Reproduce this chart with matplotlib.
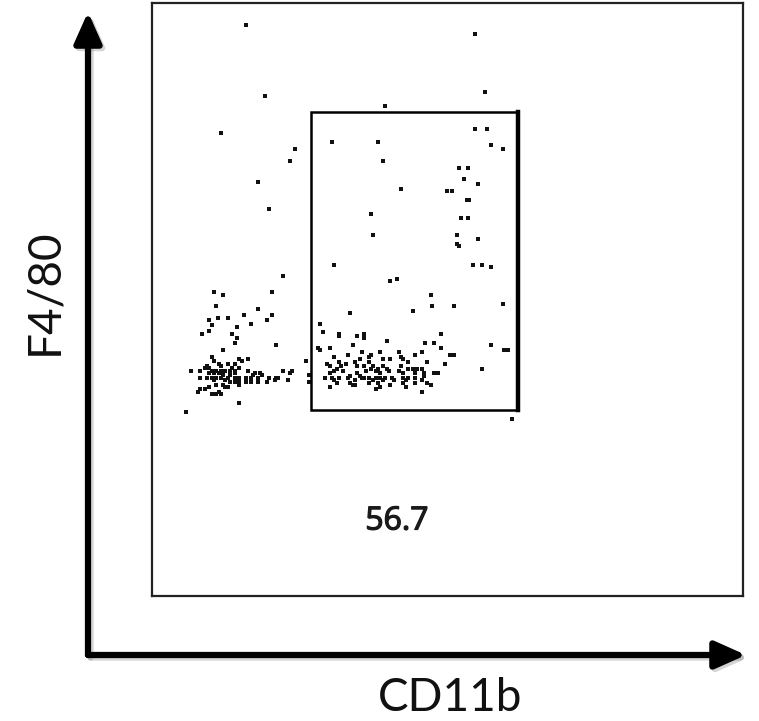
import matplotlib.pyplot as plt
import matplotlib.patheffects as pe
from matplotlib.patches import Rectangle, FancyArrowPatch

# events (CD11b, F4/80), frame scale 0-591 x 0-593
cd11b = [94, 113, 69, 143, 138, 106, 117, 131, 62, 71, 120, 64, 106, 92, 120, 66, 76, 57, 115, 60,
         99, 85, 57, 50, 80, 85, 83, 124, 71,
         60, 87, 96, 62, 90, 67, 76, 83, 55, 69, 80, 39, 48, 53, 57, 60, 64, 69, 73, 78, 83,
         87, 96, 103, 108, 131, 140, 57, 62, 67, 71, 78, 83, 101, 110, 138, 48, 55, 60, 64, 69,
         76, 83, 85, 87, 94, 99, 106, 117, 124, 126, 136, 62, 73, 78, 83, 87, 94, 99, 106, 115,
         123, 64, 71, 87, 57, 73, 76, 48, 53, 46, 60, 64, 69, 67, 87, 34, 154, 157, 157,
         233, 323, 333, 323, 335, 180, 226, 339, 351, 231, 307, 316, 312, 326, 249, 295, 300, 315, 317, 219,
         309, 316, 221, 305, 326, 305, 307, 182, 321, 330, 339, 238, 245, 279,
         280, 302, 351, 198, 261, 168, 171, 187, 187, 205, 212, 212, 289, 235, 273, 282, 201, 166, 168, 178,
         289, 339, 352, 356, 270, 210, 228, 247, 196, 219, 263, 298, 302, 182, 217, 249, 208, 231, 238, 251,
         256, 275, 187, 203, 217, 175, 178, 189, 194, 293, 205, 212, 221, 231, 249, 256, 261, 265, 270, 330,
         185, 191, 219, 226, 235, 247, 178, 182, 205, 214, 224, 228, 237, 251, 263, 272, 282, 286, 173, 180,
         187, 198, 208, 210, 212, 217, 224, 228, 233, 240, 251, 256, 263, 272, 196, 182, 203, 221, 231, 242,
         254, 270, 185, 198, 201, 203, 217, 226, 238, 251, 263, 275, 279, 178, 228, 254, 224, 270, 360]
f480 = [571, 500, 463, 447, 435, 414, 387, 320, 304, 301, 304, 290, 287, 281, 281, 278, 278, 276, 276, 271,
        272, 269, 265, 262, 262, 258, 253, 251, 246,
        239, 237, 237, 235, 235, 232, 232, 232, 230, 230, 228, 225, 225, 228, 228, 225, 225, 225, 225, 225, 225,
        228, 225, 223, 223, 225, 225, 223, 223, 223, 221, 221, 223, 221, 221, 223, 218, 218, 218, 218, 218,
        218, 218, 218, 218, 218, 218, 218, 218, 218, 218, 216, 216, 216, 214, 214, 214, 214, 214, 214, 214,
        216, 211, 211, 211, 209, 209, 209, 207, 207, 204, 202, 202, 202, 204, 193, 184, 235, 221, 214,
        490, 562, 504, 467, 467, 454, 454, 451, 447, 435, 428, 428, 417, 412, 407, 405, 405, 396, 396, 382,
        378, 378, 361, 361, 357, 352, 350, 331, 331, 331, 329, 315, 317, 301,
        290, 290, 292, 283, 285, 272, 264, 262, 260, 260, 262, 258, 262, 255, 253, 253, 251, 248, 246, 248,
        248, 251, 246, 246, 244, 244, 244, 244, 241, 241, 241, 241, 241, 239, 239, 239, 237, 237, 237, 237,
        234, 234, 234, 234, 234, 232, 230, 230, 232, 232, 230, 230, 230, 230, 230, 227, 227, 227, 227, 227,
        227, 225, 227, 227, 227, 225, 223, 225, 223, 225, 225, 223, 225, 223, 223, 223, 223, 223, 218, 218,
        218, 220, 220, 218, 218, 218, 218, 218, 218, 218, 218, 218, 218, 220, 218, 216, 216, 216, 216, 216,
        216, 216, 213, 213, 211, 211, 213, 213, 211, 213, 213, 213, 211, 209, 209, 209, 207, 204, 177]

gate_x = (159, 366)
gate_y = (186, 484)
gate_pct = "56.7"

W, H = 759, 721
fig = plt.figure(figsize=(W / 100, H / 100), dpi=100)
ax = fig.add_axes([152 / W, 1 - 596 / H, 591 / W, 593 / H])
ax.set_xlim(0, 591)
ax.set_ylim(0, 593)
ax.set_xticks([])
ax.set_yticks([])
for s in ax.spines.values():
    s.set_linewidth(1.6)
    s.set_color('#222222')

ax.scatter(cd11b, f480, s=5, c='#111111', marker='s', linewidths=0)

# gate
ax.add_patch(Rectangle((gate_x[0], gate_y[0]), gate_x[1] - gate_x[0], gate_y[1] - gate_y[0],
                       fill=False, lw=1.8, ec='black'))
ax.plot([gate_x[1], gate_x[1]], [gate_y[0], gate_y[1]], color='black', lw=3.2)
ax.text(245, 75, gate_pct, ha='center', va='center',
        fontsize=23, color='#1a1a1a', family='Open Sans',
        path_effects=[pe.withStroke(linewidth=0.9, foreground='#1a1a1a')])

# big axis arrows with soft shadow
ox, oy = 88 / W, 1 - 655 / H
for dx, dy, col, a in [(2.5 / W, -2.5 / H, '#888888', 0.35), (0, 0, 'black', 1)]:
    for tip in [(88 / W, 1 - 12 / H), (746 / W, 1 - 655 / H)]:
        fig.add_artist(FancyArrowPatch(
            (ox + dx, oy + dy), (tip[0] + dx, tip[1] + dy), transform=fig.transFigure,
            arrowstyle='-|>,head_length=0.85,head_width=0.38', mutation_scale=22,
            lw=4.5, color=col, alpha=a, shrinkA=0, shrinkB=0, capstyle='round'))

fig.text(450 / W, 1 - 698 / H, 'CD11b', ha='center', va='center', fontsize=33,
         family='Lato', color='#111111')
fig.text(44 / W, 1 - 292 / H, 'F4/80', ha='center', va='center', fontsize=33, rotation=90,
         family='Lato', color='#111111')

fig.savefig('out.png', dpi=100)
